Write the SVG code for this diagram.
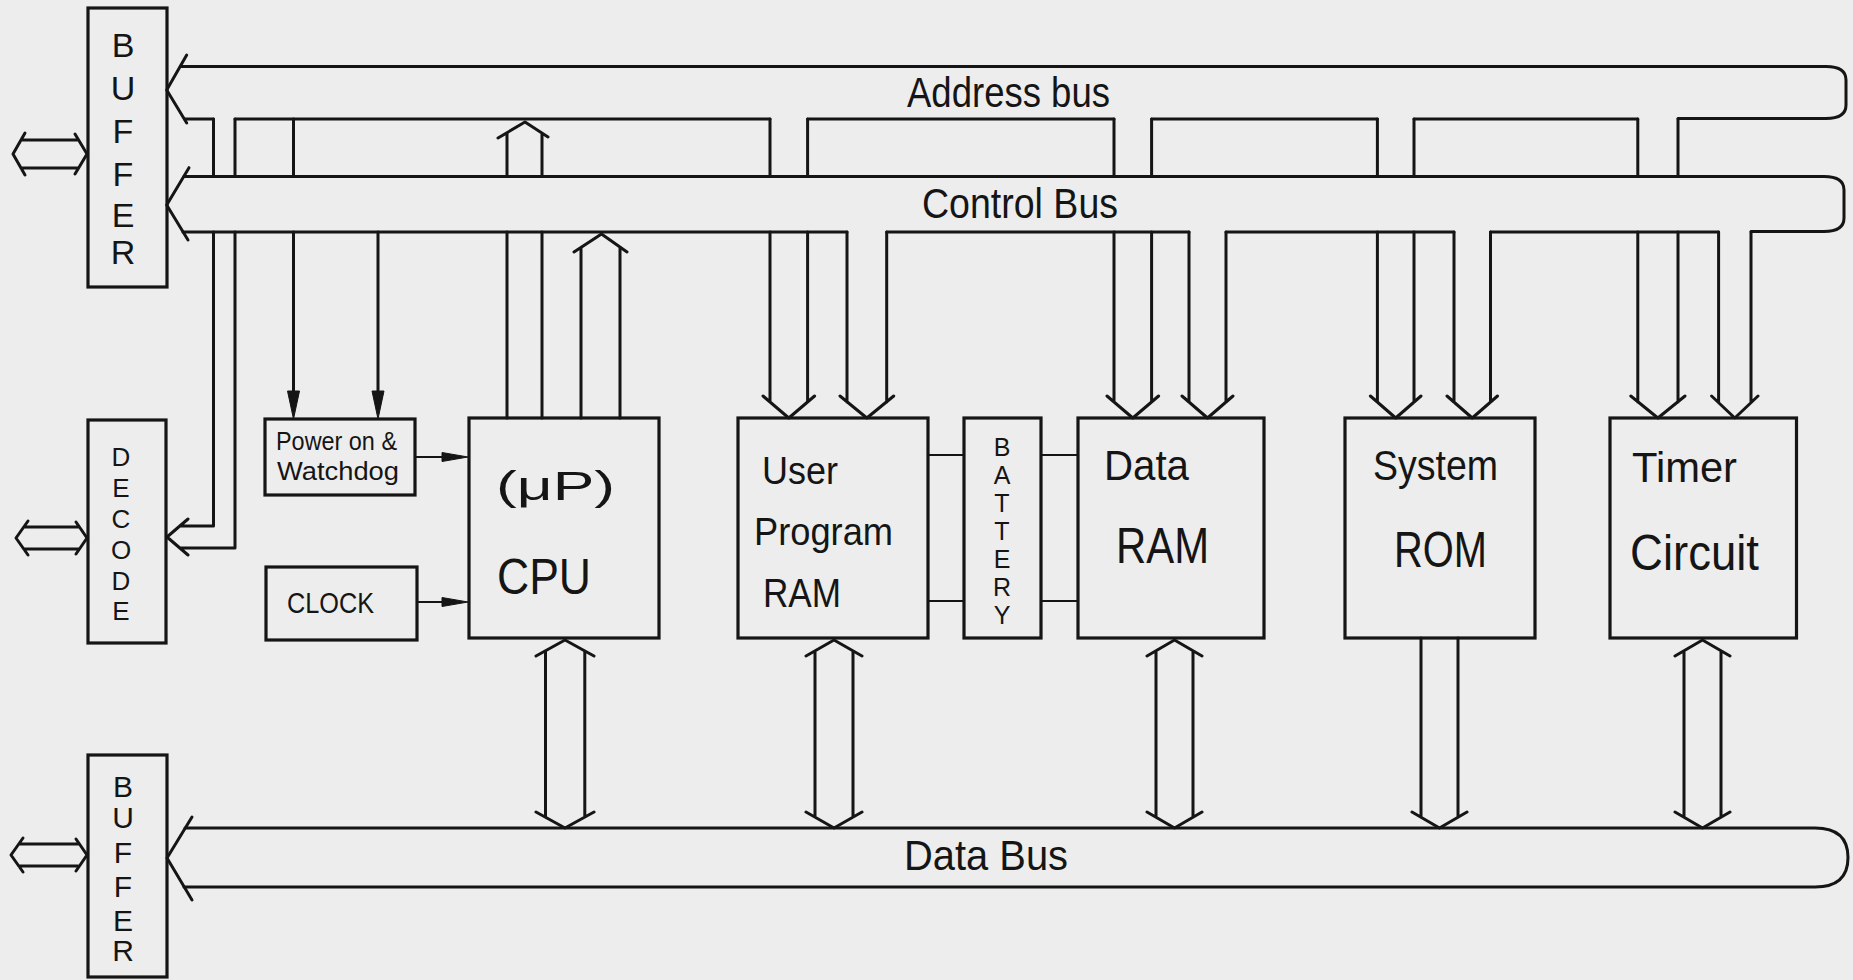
<svg xmlns="http://www.w3.org/2000/svg" width="1853" height="980" viewBox="0 0 1853 980">
<style>
.ln{fill:none;stroke:#151515;stroke-width:3;stroke-linecap:round;stroke-linejoin:round}
.thin{stroke-width:2.2}
.box{fill:none;stroke:#151515;stroke-width:3.2}
.head{fill:#151515;stroke:#151515;stroke-width:1;stroke-linejoin:round}
text{font-family:"Liberation Sans",Arial,sans-serif;fill:#151515}
.c{text-anchor:middle}
</style>
<rect width="1853" height="980" fill="#ededed"/>

<!-- Buses -->
<g id="address-bus">
  <path class="ln" d="M186.7,55 L166.7,90 L186.7,123"/>
  <path class="ln" d="M181,66.5 H1826 Q1846,66.5 1846,80 V105 Q1846,118.5 1826,118.5 H1678"/>
  <path class="ln" d="M185,119 H213.5 M235,119 H770 M807.6,119 H1114 M1151.6,119 H1377.4 M1414,119 H1637.8"/>
  <text x="907" y="107" font-size="42" textLength="203" lengthAdjust="spacingAndGlyphs">Address bus</text>
</g>
<g id="control-bus">
  <path class="ln" d="M189,167.7 L166.7,205 L188,240"/>
  <path class="ln" d="M184,176.5 H1824 Q1844,176.5 1844,190 V218 Q1844,231.5 1824,231.5 H1751"/>
  <path class="ln" d="M183,232 H847 M886.7,232 H1189 M1226,232 H1454 M1490.5,232 H1718.6"/>
  <text x="922" y="218" font-size="42" textLength="196" lengthAdjust="spacingAndGlyphs">Control Bus</text>
</g>
<g id="data-bus">
  <path class="ln" d="M192,817 L167,858 L192,900"/>
  <path class="ln" d="M185,828 H1815 Q1848,828 1848,857.5 Q1848,887 1815,887 H184"/>
  <text x="904" y="870" font-size="42" textLength="164" lengthAdjust="spacingAndGlyphs">Data Bus</text>
</g>

<!-- Blocks -->
<g id="buffer-top">
  <rect class="box" x="88" y="8" width="79" height="279"/>
  <text class="c" x="123" font-size="34"><tspan x="123" y="57">B</tspan><tspan x="123" y="100">U</tspan><tspan x="123" y="143">F</tspan><tspan x="123" y="186">F</tspan><tspan x="123" y="227">E</tspan><tspan x="123" y="264">R</tspan></text>
</g>
<g id="decode">
  <rect class="box" x="88" y="420" width="78" height="223"/>
  <text class="c" x="121" font-size="26"><tspan x="121" y="466">D</tspan><tspan x="121" y="497">E</tspan><tspan x="121" y="528">C</tspan><tspan x="121" y="559">O</tspan><tspan x="121" y="590">D</tspan><tspan x="121" y="620">E</tspan></text>
</g>
<g id="buffer-bottom">
  <rect class="box" x="88" y="755" width="79" height="222"/>
  <text class="c" x="123" font-size="30"><tspan x="123" y="797">B</tspan><tspan x="123" y="828">U</tspan><tspan x="123" y="863">F</tspan><tspan x="123" y="897">F</tspan><tspan x="123" y="931">E</tspan><tspan x="123" y="961">R</tspan></text>
</g>
<g id="power-watchdog">
  <rect class="box" x="265" y="419" width="150" height="76"/>
  <text x="276" y="450" font-size="25" textLength="121" lengthAdjust="spacingAndGlyphs">Power on &amp;</text>
  <text x="277" y="480" font-size="26" textLength="122" lengthAdjust="spacingAndGlyphs">Watchdog</text>
</g>
<g id="clock">
  <rect class="box" x="266" y="567" width="151" height="73"/>
  <text x="287" y="613" font-size="29" textLength="87" lengthAdjust="spacingAndGlyphs">CLOCK</text>
</g>
<g id="cpu">
  <rect class="box" x="469" y="418" width="190" height="220"/>
  <text x="496" y="500" font-size="40" textLength="119" lengthAdjust="spacingAndGlyphs">(μP)</text>
  <text x="497" y="594" font-size="50" textLength="94" lengthAdjust="spacingAndGlyphs">CPU</text>
</g>
<g id="user-program-ram">
  <rect class="box" x="738" y="418" width="190" height="220"/>
  <text x="762" y="484" font-size="38" textLength="76" lengthAdjust="spacingAndGlyphs">User</text>
  <text x="754" y="545" font-size="38" textLength="139" lengthAdjust="spacingAndGlyphs">Program</text>
  <text x="763" y="607" font-size="40" textLength="78" lengthAdjust="spacingAndGlyphs">RAM</text>
</g>
<g id="battery">
  <rect class="box" x="964" y="418" width="77" height="220"/>
  <text class="c" x="1002" font-size="25"><tspan x="1002" y="456">B</tspan><tspan x="1002" y="484">A</tspan><tspan x="1002" y="512">T</tspan><tspan x="1002" y="540">T</tspan><tspan x="1002" y="568">E</tspan><tspan x="1002" y="596">R</tspan><tspan x="1002" y="624">Y</tspan></text>
</g>
<g id="data-ram">
  <rect class="box" x="1078" y="418" width="186" height="220"/>
  <text x="1104" y="480" font-size="42" textLength="85" lengthAdjust="spacingAndGlyphs">Data</text>
  <text x="1116" y="563" font-size="50" textLength="93" lengthAdjust="spacingAndGlyphs">RAM</text>
</g>
<g id="system-rom">
  <rect class="box" x="1345" y="418" width="190" height="220"/>
  <text x="1373" y="480" font-size="42" textLength="125" lengthAdjust="spacingAndGlyphs">System</text>
  <text x="1394" y="567" font-size="50" textLength="93" lengthAdjust="spacingAndGlyphs">ROM</text>
</g>
<g id="timer-circuit">
  <rect class="box" x="1610" y="418" width="186.5" height="220"/>
  <text x="1632" y="482" font-size="42" textLength="105" lengthAdjust="spacingAndGlyphs">Timer</text>
  <text x="1630" y="570" font-size="50" textLength="129" lengthAdjust="spacingAndGlyphs">Circuit</text>
</g>

<!-- Connectors -->
<g id="connectors">
  <!-- external ports -->
  <path class="ln" d="M25,133 L13,154 L25,175 M21,140 H78 M21,168 H78 M75,134 L87,154 L75,174"/>
  <path class="ln" d="M28,521 L16,538 L28,555 M24,527 H79 M24,549 H79 M76,522 L87,538 L76,554"/>
  <path class="ln" d="M23,838 L11,855 L23,872 M19,844 H78 M19,866 H78 M76,839 L87,855 L76,871"/>

  <!-- links between address bus and control bus -->
  <path class="ln" d="M213.5,119 V176.5 M235,119 V176.5 M293.5,119 V176.5 M770,119 V176.5 M807.6,119 V176.5 M1114,119 V176.5 M1151.6,119 V176.5 M1377.4,119 V176.5 M1414,119 V176.5 M1637.8,119 V176.5 M1678,119 V176.5"/>

  <!-- address decode feed -->
  <path class="ln" d="M213.5,232 V526 H180 M235,232 V548 H180 M188,519 L167,537 L188,555"/>

  <!-- power on / watchdog inputs -->
  <path class="ln" d="M293.5,232 V393 M378,232 V393"/>
  <path class="head" d="M287.5,391 L299.5,391 L293.5,419 Z M372,391 L384,391 L378,419 Z"/>
  <path class="ln thin" d="M415,457 H444 M417,602 H444"/>
  <path class="head" d="M442,452.5 L442,461.5 L468,457 Z M442,597.5 L442,606.5 L468,602 Z"/>

  <!-- CPU to address bus and control bus -->
  <path class="ln" d="M498,138 L525,122 L548,137 M507,133 V176.5 M542,133 V176.5 M507,232 V418 M542,232 V418"/>
  <path class="ln" d="M574,252 L601.5,234 L627,252 M581,247.5 V418 M620,247.5 V418"/>

  <!-- bus inputs to memory and timer blocks -->
  <path class="ln" d="M770,232 V402 M807.6,232 V402 M763,396 L788.8,418 L814.6,396"/>
  <path class="ln" d="M847,232 V402 M886.7,232 V402 M840,396 L866.85,418 L893.7,396"/>
  <path class="ln" d="M1114,232 V402 M1151.6,232 V402 M1107,396 L1132.8,418 L1158.6,396"/>
  <path class="ln" d="M1189,232 V402 M1226,232 V402 M1182,396 L1207.5,418 L1233,396"/>
  <path class="ln" d="M1377.4,232 V402 M1414,232 V402 M1370.4,396 L1395.7,418 L1421,396"/>
  <path class="ln" d="M1454,232 V402 M1490.5,232 V402 M1447,396 L1472.25,418 L1497.5,396"/>
  <path class="ln" d="M1637.8,232 V402 M1678,232 V402 M1630.8,396 L1657.9,418 L1685,396"/>
  <path class="ln" d="M1718.6,232 V402 M1751,232 V402 M1711.6,396 L1734.8,418 L1758,396"/>

  <!-- battery backup -->
  <path class="ln thin" d="M928,455 H964 M1041,455 H1078 M928,601 H964 M1041,601 H1078"/>

  <!-- data bus links -->
  <path class="ln" d="M536,656 L565,640 L594,656 M536,812 L565,828 L594,812 M545.5,651 V817 M584.8,651 V817"/>
  <path class="ln" d="M806,656 L834,640 L862,656 M806,812 L834,828 L862,812 M815,651 V817 M853,651 V817"/>
  <path class="ln" d="M1147,656 L1174.5,640 L1202,656 M1147,812 L1174.5,828 L1202,812 M1156,651 V817 M1193,651 V817"/>
  <path class="ln" d="M1421,638 V817 M1458,638 V817 M1412,812 L1439.5,828 L1467,812"/>
  <path class="ln" d="M1675,656 L1702.5,640 L1730,656 M1675,812 L1702.5,828 L1730,812 M1684,651 V817 M1721,651 V817"/>
</g>
</svg>
